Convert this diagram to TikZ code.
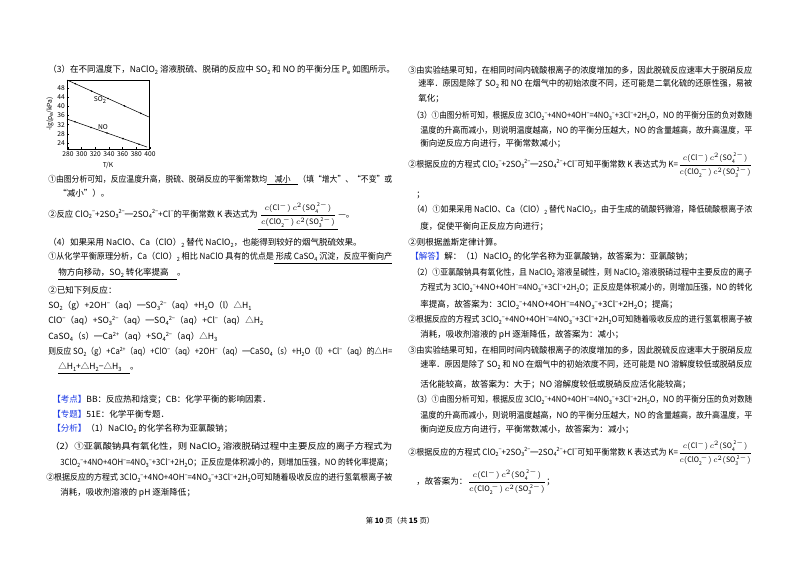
\documentclass[tikz,border=0pt]{standalone}
\usepackage{amsmath}
\usepackage{graphicx}
\usepackage{fontspec}
\usetikzlibrary{calc}
\setmainfont{Noto Sans CJK SC}
\newcommand{\dn}[1]{\raisebox{-0.35ex}{\fontsize{4.3}{5}\selectfont #1}}
\newcommand{\up}[1]{\raisebox{0.75ex}{\fontsize{4.3}{5}\selectfont #1}}
\newcommand{\eqA}{3ClO\dn2\up{−}+4NO+4OH\up{−}=4NO\dn3\up{−}+3Cl\up{−}+2H\dn2O}
\newcommand{\eqB}{ClO\dn2\up{−}+2SO\dn3\up{2−}═2SO\dn4\up{2−}+Cl\up{−}}
\newcommand{\Kfrac}{{\fontsize{5.6}{6}\selectfont$\dfrac{c(\mathrm{Cl^-})\,c^2(\mathrm{SO_4^{\,2-}})}{c(\mathrm{ClO_2^{\,-}})\,c^2(\mathrm{SO_3^{\,2-}})}$}}
\newcommand{\fw}[2]{\resizebox{#1\dimexpr 0.75pt\relax}{\height}{#2}}
\definecolor{tagblue}{RGB}{30,60,230}
\begin{document}
\begin{tikzpicture}[x=0.75pt,y=-0.75pt,
  tx/.style={anchor=west,inner sep=0pt,font=\fontsize{6.4}{7.5}\selectfont},
  ax/.style={inner sep=0pt,font=\fontsize{5}{6}\selectfont}]
\useasboundingbox[fill=white] (0,0) rectangle (800,565);
% ---- chart ----
\draw[line width=0.4pt] (67,80) rectangle (149,149);
\foreach \v in {24,28,...,48}{
  \draw (67,{143-(\v-24)*2.29}) -- ++(2,0);
  \node[ax,anchor=east] at (65,{143-(\v-24)*2.29}) {\v};}
\foreach \t in {280,300,...,400}{
  \draw ({68+(\t-280)*0.683},149) -- ++(0,-2);
  \node[ax] at ({68+(\t-280)*0.683},154) {\t};}
\node[ax] (tk) at (108,165) {T/K};
\node[ax,rotate=90] (yl) at (50,114) {-lg(p\dn e/kPa)};
\coordinate (s1) at (67,80); \coordinate (s2) at (149,117);
\coordinate (n1) at (67,119); \coordinate (n2) at (147,147);
\draw (s1) -- (s2); \draw (n1) -- (n2);
\foreach \f in {0.1,0.3,0.5,0.7,0.9}{
  \fill ($(s1)!\f!(s2)$) circle (0.9);
  \fill ($(n1)!\f!(n2)$) circle (0.9);}
\node[ax] (so2) at (100,100) {SO\dn2};
\node[ax] (no) at (103,127) {NO};
% ---- left column ----
\node[tx] (a1) at (48,70) {（3）在不同温度下，NaClO\dn2 溶液脱硫、脱硝的反应中 SO\dn2 和 NO 的平衡分压 P\dn e 如图所示。};
\node[tx] (a2) at (48,180) {\fw{344}{①由图分析可知，反应温度升高，脱硫、脱硝反应的平衡常数均\underline{\quad 减小\quad}（填“增大”、“不变”或}};
\node[tx] (a3) at (58,193) {“减小”）。};
\node[tx] (a4) at (48,216) {\fw{290}{②反应 \eqB 的平衡常数 K 表达式为\underline{\ \Kfrac\ }}—。};
\node[tx] (a5) at (48,243) {（4）如果采用 NaClO、Ca（ClO）\dn2 替代 NaClO\dn2，也能得到较好的烟气脱硫效果。};
\node[tx] (a6) at (48,258) {\fw{344}{①从化学平衡原理分析，Ca（ClO）\dn2 相比 NaClO 具有的优点是\underline{\ 形成 CaSO\dn4 沉淀，反应平衡向产}}};
\node[tx] (a7) at (58,274) {\underline{物方向移动，SO\dn2 转化率提高\quad}。};
\node[tx] (a8) at (48,290) {②已知下列反应：};
\node[tx] (a9) at (48,306) {SO\dn2（g）+2OH\up{−}（aq）═SO\dn3\up{2−}（aq）+H\dn2O（l）△H\dn1};
\node[tx] (a10) at (48,321) {ClO\up{−}（aq）+SO\dn3\up{2−}（aq）═SO\dn4\up{2−}（aq）+Cl\up{−}（aq）△H\dn2};
\node[tx] (a11) at (48,337) {CaSO\dn4（s）═Ca\up{2+}（aq）+SO\dn4\up{2−}（aq）△H\dn3};
\node[tx] (a12) at (48,352) {\fw{344}{则反应 SO\dn2（g）+Ca\up{2+}（aq）+ClO\up{−}（aq）+2OH\up{−}（aq）═CaSO\dn4（s）+H\dn2O（l）+Cl\up{−}（aq）的△H=}};
\node[tx] (a13) at (58,368) {\underline{△H\dn1+△H\dn2−△H\dn3\quad}。};
\node[tx] (a14) at (52,400) {\textcolor{tagblue}{【考点】}BB：反应热和焓变；CB：化学平衡的影响因素．};
\node[tx] (a15) at (52,414) {\textcolor{tagblue}{【专题】}51E：化学平衡专题．};
\node[tx] (a16) at (52,429) {\textcolor{tagblue}{【分析】}（1）NaClO\dn2 的化学名称为亚氯酸钠；};
\node[tx] (a17) at (50,447) {\fw{342}{（2）①亚氯酸钠具有氧化性，则 NaClO\dn2 溶液脱硝过程中主要反应的离子方程式为}};
\node[tx] (a18) at (60,463) {\fw{332}{\eqA；正反应是体积减小的，则增加压强，NO 的转化率提高；}};
\node[tx] (a19) at (46,478) {\fw{346}{②根据反应的方程式 \eqA 可知随着吸收反应的进行氢氧根离子被}};
\node[tx] (a20) at (60,493) {消耗，吸收剂溶液的 pH 逐渐降低；};
\node[inner sep=0pt,font=\fontsize{5.5}{6}\selectfont] (ft) at (400,521) {第 \textbf{10} 页（共 \textbf{15} 页）};
% ---- right column ----
\node[tx] (b1) at (408,70) {\fw{344}{③由实验结果可知，在相同时间内硫酸根离子的浓度增加的多，因此脱硫反应速率大于脱硝反应}};
\node[tx] (b2) at (418,84) {\fw{334}{速率．原因是除了 SO\dn2 和 NO 在烟气中的初始浓度不同，还可能是二氧化硫的还原性强，易被}};
\node[tx] (b3) at (418,99) {氧化；};
\node[tx] (b4) at (412,116) {\fw{340}{（3）①由图分析可知，根据反应 \eqA，NO 的平衡分压的负对数随}};
\node[tx] (b5) at (420,130) {\fw{332}{温度的升高而减小，则说明温度越高，NO 的平衡分压越大，NO 的含量越高，故升高温度，平}};
\node[tx] (b6) at (420,144) {衡向逆反应方向进行，平衡常数减小；};
\node[tx] (b7) at (408,165) {\fw{344}{②根据反应的方程式 \eqB 可知平衡常数 K 表达式为 K=\Kfrac}};
\node[tx] (b8) at (416,195) {；};
\node[tx] (b9) at (412,210) {\fw{340}{（4）①如果采用 NaClO、Ca（ClO）\dn2 替代 NaClO\dn2，由于生成的硫酸钙微溶，降低硫酸根离子浓}};
\node[tx] (b10) at (420,227) {度，促使平衡向正反应方向进行；};
\node[tx] (b11) at (408,242) {②则根据盖斯定律计算。};
\node[tx] (b12) at (410,257) {\textcolor{tagblue}{【解答】}解：（1）NaClO\dn2 的化学名称为亚氯酸钠，故答案为：亚氯酸钠；};
\node[tx] (b13) at (412,273) {\fw{340}{（2）①亚氯酸钠具有氧化性，且 NaClO\dn2 溶液呈碱性，则 NaClO\dn2 溶液脱硝过程中主要反应的离子}};
\node[tx] (b14) at (420,288) {\fw{332}{方程式为 \eqA；正反应是体积减小的，则增加压强，NO 的转化}};
\node[tx] (b15) at (420,305) {率提高，故答案为：\eqA；提高；};
\node[tx] (b16) at (408,320) {\fw{344}{②根据反应的方程式 \eqA 可知随着吸收反应的进行氢氧根离子被}};
\node[tx] (b17) at (420,335) {消耗，吸收剂溶液的 pH 逐渐降低，故答案为：减小；};
\node[tx] (b18) at (408,350) {\fw{344}{③由实验结果可知，在相同时间内硫酸根离子的浓度增加的多，因此脱硫反应速率大于脱硝反应}};
\node[tx] (b19) at (420,365) {\fw{332}{速率．原因是除了 SO\dn2 和 NO 在烟气中的初始浓度不同，还可能是 NO 溶解度较低或脱硝反应}};
\node[tx] (b20) at (420,385) {活化能较高，故答案为：大于；NO 溶解度较低或脱硝反应活化能较高；};
\node[tx] (b21) at (412,400) {\fw{340}{（3）①由图分析可知，根据反应 \eqA，NO 的平衡分压的负对数随}};
\node[tx] (b22) at (420,415) {\fw{332}{温度的升高而减小，则说明温度越高，NO 的平衡分压越大，NO 的含量越高，故升高温度，平}};
\node[tx] (b23) at (420,430) {衡向逆反应方向进行，平衡常数减小，故答案为：减小；};
\node[tx] (b24) at (408,453) {\fw{344}{②根据反应的方程式 \eqB 可知平衡常数 K 表达式为 K=\Kfrac}};
\node[tx] (b25) at (416,482) {，故答案为：\Kfrac；};
\end{tikzpicture}
\end{document}
